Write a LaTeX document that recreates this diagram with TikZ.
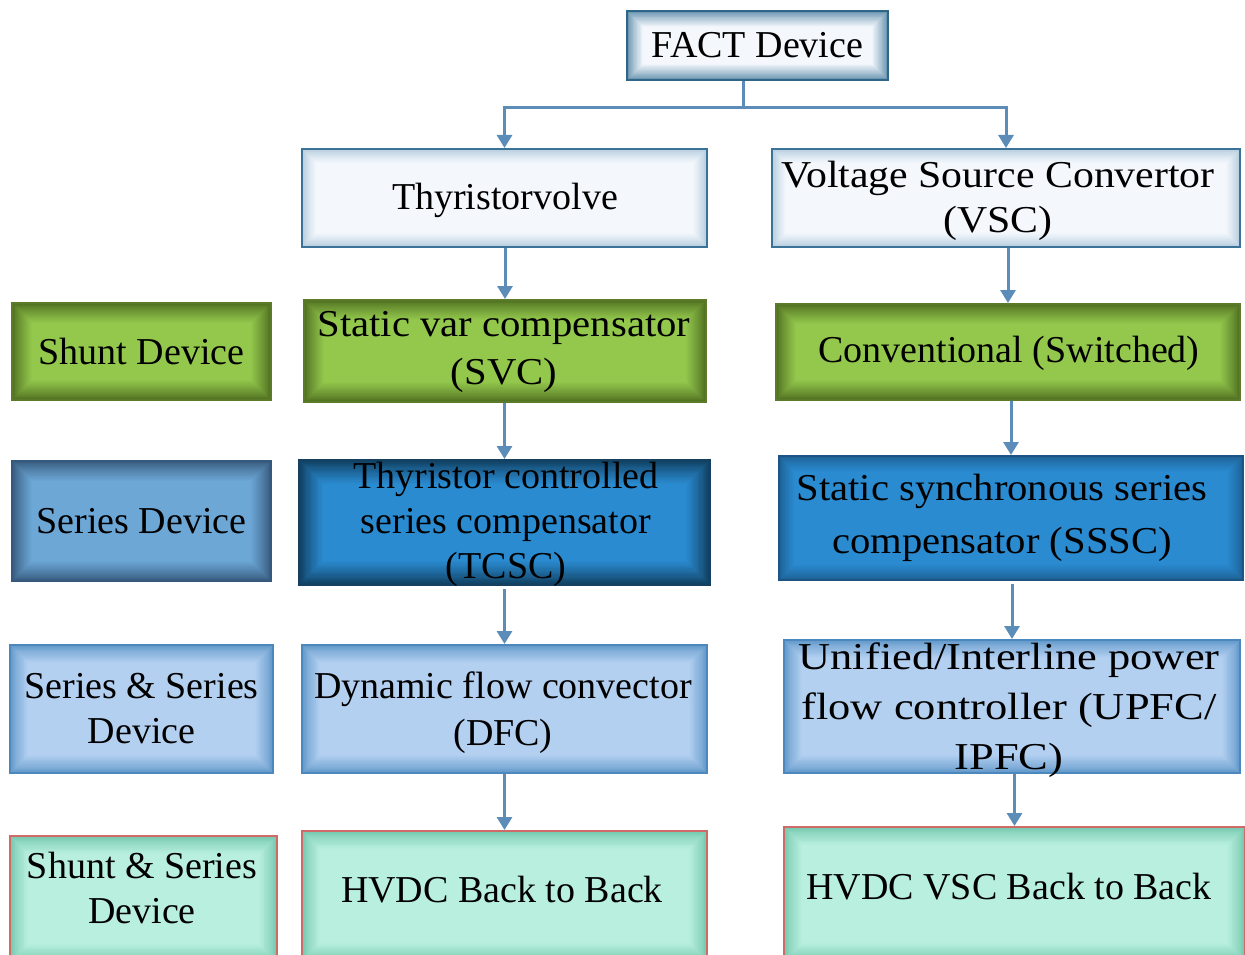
\documentclass[tikz,border=0pt]{standalone}
\usepackage{fontspec}
\setmainfont{Liberation Serif}
% slightly widened cuts of the same serif for the longer labels
\newfontfamily\wideA[FakeStretch=1.07]{Liberation Serif}
\newfontfamily\wideB[FakeStretch=1.10]{Liberation Serif}
\newfontfamily\wideC[FakeStretch=1.17]{Liberation Serif}
\usetikzlibrary{arrows.meta}

% colour palette
\definecolor{linkblue}{HTML}{5B8DB8}
\definecolor{paleC}{HTML}{F4F8FD}
\definecolor{paleE}{HTML}{B2CADD}
\definecolor{paleB}{HTML}{3B7398}
\definecolor{factE}{HTML}{5F8DAA}
\definecolor{factB}{HTML}{2F6688}
\definecolor{grnC}{HTML}{93C84C}
\definecolor{grnE}{HTML}{4D6B1F}
\definecolor{grnB}{HTML}{5B7A2A}
\definecolor{serC}{HTML}{6CA7D6}
\definecolor{serE}{HTML}{35587A}
\definecolor{serB}{HTML}{34597C}
\definecolor{deepC}{HTML}{2A8BD0}
\definecolor{deepE}{HTML}{0F3B5A}
\definecolor{deepB}{HTML}{16405F}
\definecolor{ssscE}{HTML}{1D5F92}
\definecolor{ssscB}{HTML}{1C5585}
\definecolor{ltC}{HTML}{B3D0F1}
\definecolor{ltE}{HTML}{6097C9}
\definecolor{ltB}{HTML}{4C87BD}
\definecolor{tealC}{HTML}{B9EFDF}
\definecolor{tealE}{HTML}{72C7AC}
\definecolor{tealB}{HTML}{D06A66}

\tikzset{
  % soft inner glow: nested rectangles blending edge colour into centre colour
  glow/.style n args={3}{
    path picture={
      \foreach \k in {0,...,20}{
        \pgfmathsetmacro\mix{100*(\k/20)^0.8}
        \pgfmathsetmacro\ins{#3*\k/20}
        \fill[#2!\mix!#1]
          ([xshift=\ins pt,yshift=-\ins pt]path picture bounding box.north west)
          rectangle ([xshift=-\ins pt,yshift=\ins pt]path picture bounding box.south east);
      }}},
  box/.style={rectangle, inner sep=0pt, align=center, line width=2pt,
    font=\fontsize{38}{45}\selectfont},
  palebox/.style={box, draw=paleB, glow={paleE}{paleC}{14}},
  factbox/.style={box, draw=factB, glow={factE}{paleC}{16}},
  greenbox/.style={box, draw=grnB, glow={grnE}{grnC}{20}},
  serbox/.style={box, draw=serB, glow={serE}{serC}{20}},
  deepbox/.style={box, draw=deepB, glow={deepE}{deepC}{24}},
  ssscbox/.style={box, draw=ssscB, glow={ssscE}{deepC}{16}},
  ltbox/.style={box, draw=ltB, glow={ltE}{ltC}{18}},
  tealbox/.style={box, draw=tealB, glow={tealE}{tealC}{18}},
  txt/.style={inner sep=0pt, align=center, font=\fontsize{38}{45}\selectfont},
  link/.style={draw=linkblue, line width=3pt},
  conn/.style={link, -{Triangle[width=15pt,length=13pt]}},
}

\begin{document}
\begin{tikzpicture}[x=1pt, y=-1pt]
\useasboundingbox (0,0) rectangle (1245,955);

% top of the tree
\node[factbox, minimum width=261, minimum height=69] (fact) at (757.5,45.5) {FACT Device};
\node[palebox, minimum width=405, minimum height=98] (tv) at (504.5,198) {};
\node[txt] (tv-t) at (505,200) {Thyristorvolve};
\node[palebox, minimum width=468, minimum height=98] (vsc) at (1006,198) {};
\node[txt, font=\wideB\fontsize{38}{45}\selectfont] (vsc-t) at (998,201) {Voltage Source Convertor\\(VSC)};

% row labels on the left
\node[greenbox, minimum width=259, minimum height=97] (shunt) at (141.5,351.5) {Shunt Device};
\node[serbox, minimum width=259, minimum height=120] (series) at (141.5,521) {Series Device};
\node[ltbox, minimum width=263, minimum height=128] (serser) at (141.5,709) {Series \& Series\\Device};
\node[tealbox, minimum width=267, minimum height=126] (shser) at (143.5,899) {};
\node[txt] (shser-t) at (142,888) {Shunt \& Series\\Device};

% thyristor based column
\node[greenbox, minimum width=402, minimum height=102] (svc) at (505,351) {};
\node[txt, font=\wideA\fontsize{38}{48}\selectfont] (svc-t) at (504,352) {Static var compensator\\(SVC)};
\node[deepbox, minimum width=411, minimum height=125] (tcsc) at (504.5,522.5) {};
\node[txt] (tcsc-t) at (506,524) {Thyristor controlled\\series compensator\\(TCSC)};
\node[ltbox, minimum width=405, minimum height=128] (dfc) at (504.5,709) {};
\node[txt, font=\fontsize{38}{47}\selectfont] (dfc-t) at (503,713) {Dynamic flow convector\\(DFC)};
\node[tealbox, minimum width=405, minimum height=130] (hb) at (504.5,896) {};
\node[txt] (hb-t) at (502,890) {HVDC Back to Back};

% converter based column
\node[greenbox, minimum width=464, minimum height=96] (conv) at (1008,352) {};
\node[txt] (conv-t) at (1009,353) {Conventional (Switched)};
\node[ssscbox, minimum width=464, minimum height=124] (sssc) at (1011,518) {};
\node[txt, font=\wideA\fontsize{38}{53}\selectfont] (sssc-t) at (1002,518) {Static synchronous series\\compensator (SSSC)};
\node[ltbox, minimum width=456, minimum height=133] (upfc) at (1012,706.5) {};
\node[txt, font=\wideC\fontsize{38}{50}\selectfont] (upfc-t) at (1009,710) {Unified/Interline power\\flow controller (UPFC/\\IPFC)};
\node[tealbox, minimum width=461, minimum height=134] (hv) at (1014.5,894) {};
\node[txt] (hv-t) at (1009,887) {HVDC VSC Back to Back};

% connectors
\draw[link] ([xshift=-14pt]fact.south) -- ++(0,27) coordinate (split);
\draw[conn] (split) -| (tv.north);
\draw[conn] (split) -| (vsc.north);

\draw[conn] (tv.south -| svc.north) -- (svc.north);
\draw[conn] (svc.south -| tcsc.north) -- (tcsc.north);
\draw[conn] ([yshift=-3pt]tcsc.south -| dfc.north) -- (dfc.north);
\draw[conn] (dfc.south -| hb.north) -- (hb.north);

\draw[conn] (vsc.south -| conv.north) -- (conv.north);
\draw[conn] (conv.south -| sssc.north) -- (sssc.north);
\draw[conn] ([yshift=-3pt]sssc.south -| upfc.north) -- (upfc.north);
\draw[conn] (upfc.south -| hv.north) -- (hv.north);
\end{tikzpicture}
\end{document}
